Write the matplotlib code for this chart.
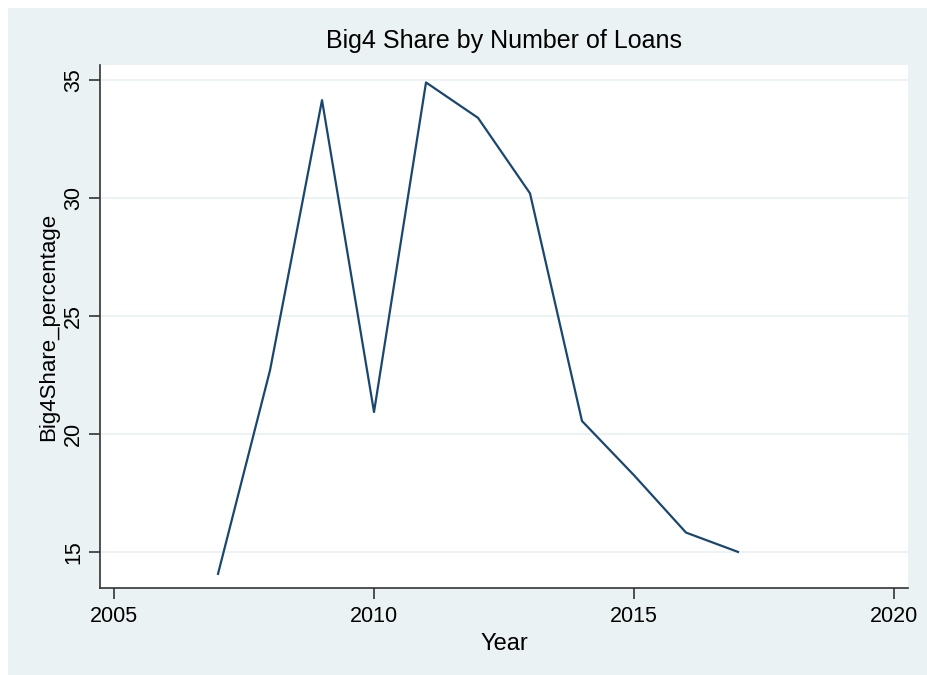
import matplotlib
matplotlib.use("Agg")
import matplotlib.pyplot as plt
from matplotlib.patches import Rectangle

years = [2007, 2008, 2009, 2010, 2011, 2012, 2013, 2014, 2015, 2016, 2017]
share = [14.07, 22.7, 34.15, 20.93, 34.9, 33.4, 30.2, 20.55, 18.25, 15.82, 15.0]
xticks = [2005, 2010, 2015, 2020]
yticks = [15, 20, 25, 30, 35]

plt.rcParams['font.family'] = ['Liberation Sans', 'DejaVu Sans']

W, H = 927, 675
fig = plt.figure(figsize=(W / 100, H / 100), dpi=100)
fig.patch.set_facecolor('white')
# stata style light background box
fig.patches.append(Rectangle((8 / W, 0), 1 - 8 / W, 1 - 8 / H, transform=fig.transFigure,
                             facecolor='#eaf2f3', edgecolor='none', zorder=-10))

ax = fig.add_axes([100 / W, 1 - 588 / H, (908 - 100) / W, (588 - 65) / H])
ax.set_facecolor('white')
ax.plot(years, share, color='#1a476f', linewidth=1.6)

ax.set_xlim(2004.73, 2020.27)
ax.set_ylim(13.47, 35.64)
ax.set_xticks(xticks)
ax.set_yticks(yticks)
ax.grid(axis='y', color='#eaf2f3', linewidth=1.3)
ax.set_axisbelow(True)

for s in ['top', 'right']:
    ax.spines[s].set_visible(False)
for s in ['left', 'bottom']:
    ax.spines[s].set_color('#333333')
    ax.spines[s].set_linewidth(1.2)

ax.tick_params(axis='both', direction='out', length=8, width=1.2, color='#333333', labelsize=15.5)
ax.tick_params(axis='x', pad=5)
ax.tick_params(axis='y', pad=3.5)
for lbl in ax.get_yticklabels():
    lbl.set_rotation(90)
    lbl.set_va('center')

ax.set_xlabel('Year', fontsize=17, labelpad=4)
ax.set_ylabel('Big4Share_percentage', fontsize=16)
ax.yaxis.set_label_coords(-0.05, 0.5)
ax.set_title('Big4 Share by Number of Loans', fontsize=18, pad=12)

fig.savefig('out.png', dpi=100, facecolor=fig.get_facecolor())
